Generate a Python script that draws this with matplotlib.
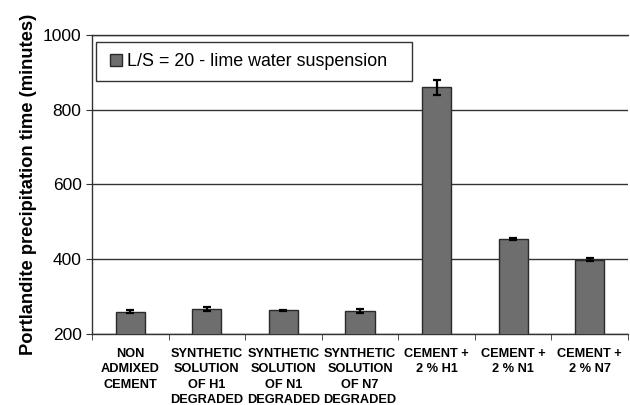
import matplotlib
matplotlib.use("Agg")
import matplotlib.pyplot as plt
from matplotlib.patches import Rectangle
import numpy as np

categories = ["NON\nADMIXED\nCEMENT",
              "SYNTHETIC\nSOLUTION\nOF H1\nDEGRADED",
              "SYNTHETIC\nSOLUTION\nOF N1\nDEGRADED",
              "SYNTHETIC\nSOLUTION\nOF N7\nDEGRADED",
              "CEMENT +\n2 % H1",
              "CEMENT +\n2 % N1",
              "CEMENT +\n2 % N7"]
values = [260, 267, 263, 261, 860, 454, 399]
errors = [3, 5, 2, 6, 20, 3, 4]
series_label = "L/S = 20 - lime water suspension"
yticks = [200, 400, 600, 800, 1000]

plt.rcParams['font.family'] = ['Liberation Sans', 'DejaVu Sans']

W, H = 630, 405
fig = plt.figure(figsize=(6.3, 4.05), dpi=100)
ax = fig.add_axes([92 / W, (H - 334) / H, (628 - 92) / W, (334 - 35) / H])

x = np.arange(len(categories))
ax.bar(x, values, width=0.38, color='#6e6e6e', edgecolor='#2a2a2a', linewidth=1.0,
       label=series_label, zorder=3)
ax.errorbar(x, values, yerr=errors, fmt='none', ecolor='black', elinewidth=1.6,
            capsize=3, capthick=1.6, zorder=4)

ax.set_xlim(-0.5, len(categories) - 0.5)
ax.set_ylim(200, 1000)
ax.set_yticks(yticks)
ax.set_yticklabels([str(v) for v in yticks], fontsize=12.5)
ax.yaxis.grid(True, color='#333333', linewidth=1.0, zorder=0)
ax.set_axisbelow(True)

ax.set_xticks(x)
ax.set_xticklabels(categories, fontsize=9.2, fontweight='bold', linespacing=1.38)
ax.tick_params(axis='x', which='major', length=0, pad=10)
ax.set_xticks(np.arange(-0.5, len(categories), 1.0), minor=True)
ax.tick_params(axis='x', which='minor', length=4, color='#333333', direction='out')
ax.tick_params(axis='y', length=4, color='#333333', direction='out')

for s in ['left', 'bottom', 'top']:
    ax.spines[s].set_color('#333333')
    ax.spines[s].set_linewidth(1.0)
ax.spines['right'].set_visible(False)

ax.set_ylabel("Portlandite precipitation time (minutes)", fontsize=13.2, fontweight='bold', labelpad=4)

# legend box
box = Rectangle((96 / W, (H - 81) / H), (412 - 96) / W, (81 - 42) / H,
                transform=fig.transFigure, facecolor='white',
                edgecolor='#333333', linewidth=1.0, zorder=5, clip_on=False)
ax.add_patch(box)
leg = ax.legend(loc='center left', bbox_to_anchor=((110 - 92) / (628 - 92), (334 - 61.5) / (334 - 35)),
                fontsize=12.9, frameon=False, borderpad=0.0,
                handlelength=0.65, handleheight=0.65, handletextpad=0.3, borderaxespad=0.0)
leg.set_zorder(6)

fig.savefig("out.png", dpi=100, facecolor='white')
